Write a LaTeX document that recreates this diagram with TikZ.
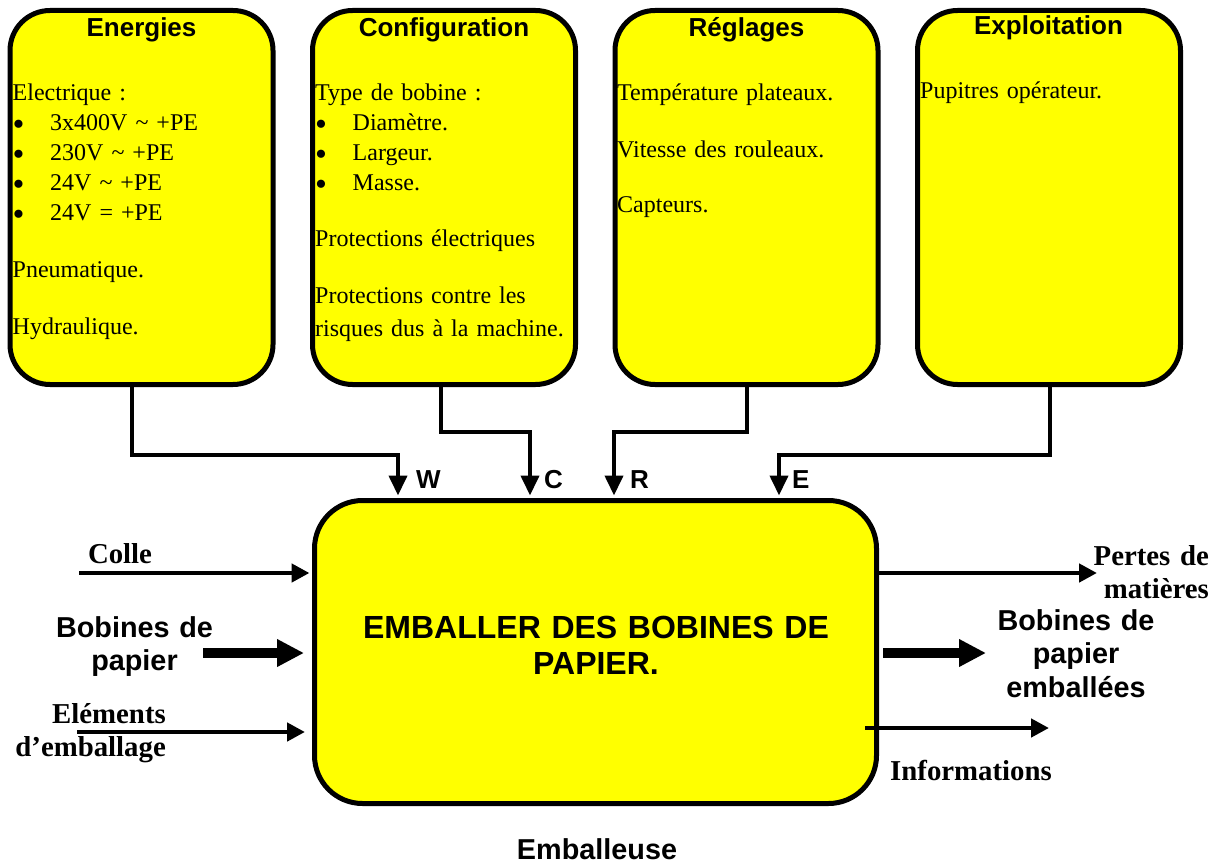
\documentclass[tikz,border=0pt]{standalone}
\usepackage{fontspec}
\setmainfont{Liberation Serif}
\newfontfamily\arialf{Liberation Sans}
\usetikzlibrary{arrows.meta}
\definecolor{jaune}{RGB}{255,255,0}
\newcommand\puce{\makebox[37.5pt][l]{\smash{\raisebox{-5pt}{\fontsize{34}{30}\selectfont\textbullet}}}}
\begin{document}
\begin{tikzpicture}[x=1pt,y=-1pt,
  box/.style={draw=black, line width=5pt, fill=jaune, rounded corners=40pt,
    minimum width=263pt, minimum height=374pt, inner sep=0pt},
  mainbox/.style={draw=black, line width=5pt, fill=jaune, rounded corners=48pt,
    minimum width=562pt, minimum height=303pt, inner sep=0pt},
  ttl/.style={font=\arialf\bfseries\fontsize{26}{30}\selectfont, anchor=base, inner sep=0pt},
  body/.style={font=\fontsize{24}{30}\selectfont, anchor=base west, inner sep=0pt,
    text width=262pt, align=left},
  ctl/.style={line width=4pt, -{Triangle[length=20pt,width=18pt]}, shorten >=2.5pt},
  flow/.style={line width=4.5pt, -{Triangle[length=18pt,width=18pt]}},
  bigflow/.style={line width=10pt, -{Triangle[length=27pt,width=26pt]}},
  lbl/.style={font=\bfseries\fontsize{28.8}{33.5}\selectfont, inner sep=0pt},
  slbl/.style={font=\arialf\bfseries\fontsize{28.8}{33.5}\selectfont, inner sep=0pt},
  letter/.style={font=\arialf\bfseries\fontsize{26}{30}\selectfont, anchor=base west, inner sep=0pt}]
\useasboundingbox (0,0) rectangle (1226,864);

% top boxes
\node[box] (en) at (141.5,197.5) {};
\node[box] (cf) at (444,197.5) {};
\node[box] (rg) at (746.5,197.5) {};
\node[box] (ex) at (1049,197.5) {};

\node[ttl] (en-t) at (141.5,37) {Energies};
\node[ttl] (cf-t) at (444,37) {Configuration};
\node[ttl] (rg-t) at (746.5,37) {Réglages};
\node[ttl] (ex-t) at (1048.5,35) {Exploitation};

\node[body] (en-b) at (12.5,101) {Electrique :\\
\puce 3x400V \textasciitilde{} +PE\\
\puce 230V \textasciitilde{} +PE\\
\puce 24V \textasciitilde{} +PE\\
\puce 24V = +PE\\[27pt]
Pneumatique.\\[27pt]
Hydraulique.};

\node[body] (cf-b) at (315,101) {Type de bobine :\\
\puce Diamètre.\\
\puce Largeur.\\
\puce Masse.\\[26pt]
Protections électriques\\[27pt]
Protections contre les\\[3pt]
risques dus à la machine.};

\node[body] (rg-b) at (617,101) {Température plateaux.\\[27pt]
Vitesse des rouleaux.\\[25pt]
Capteurs.};

\node[body] (ex-b) at (920,99) {Pupitres opérateur.};

% main box
\node[mainbox] (main) at (595.5,652) {};
\node[font=\arialf\bfseries\fontsize{32}{36}\selectfont, anchor=base, inner sep=0pt,
  text width=540pt, align=center] (main-t) at (596,638) {EMBALLER DES BOBINES DE\\PAPIER.};

% control connectors
\draw[ctl] (en.south -| 132,0) |- (398,455) -- (main.north -| 398,0);
\draw[ctl] (cf.south -| 441,0) |- (530,432) -- (main.north -| 530,0);
\draw[ctl] (rg.south -| 747,0) |- (614,432) -- (main.north -| 614,0);
\draw[ctl] (ex.south -| 1050,0) |- (779,455) -- (main.north -| 779,0);

\node[letter] (lw) at (416,488) {W};
\node[letter] (lc) at (544,488) {C};
\node[letter] (lr) at (630,488) {R};
\node[letter] (le) at (792,488) {E};

% inputs
\coordinate (colleS) at (79,573);
\coordinate (bobS) at (203,653);
\coordinate (elemS) at (77,732);
\draw[flow, shorten >=2.5pt] (colleS) -- (colleS -| main.west);
\draw[bigflow, shorten >=8pt] (bobS) -- (bobS -| main.west);
\draw[flow, shorten >=7pt] (elemS) -- (elemS -| main.west);

\node[lbl, anchor=base] (colle) at (120,563) {Colle};
\node[slbl, anchor=base, text width=200pt, align=center] (bob) at (134.5,637) {Bobines de\\papier};
\node[lbl, anchor=base east, text width=180pt, align=right] (elem) at (166,723) {Eléments\\d’emballage};

% outputs
\coordinate (pertE) at (1097,573);
\coordinate (bpeS) at (883,653);
\coordinate (bpeE) at (986,653);
\coordinate (infS) at (865,728);
\coordinate (infE) at (1049,728);
\draw[flow] (pertE -| main.east) -- (pertE);
\draw[bigflow] (bpeS) -- (bpeE);
\draw[flow] (infS) -- (infE);

\node[lbl, anchor=base east, text width=200pt, align=right] (pert) at (1209,565) {Pertes de\\matières};
\node[slbl, anchor=base, text width=220pt, align=center] (bpe) at (1076,630) {Bobines de\\papier\\emballées};
\node[lbl, anchor=base] (info) at (971,780) {Informations};
\node[slbl, anchor=base] (emb) at (597,859) {Emballeuse};
\end{tikzpicture}
\end{document}
